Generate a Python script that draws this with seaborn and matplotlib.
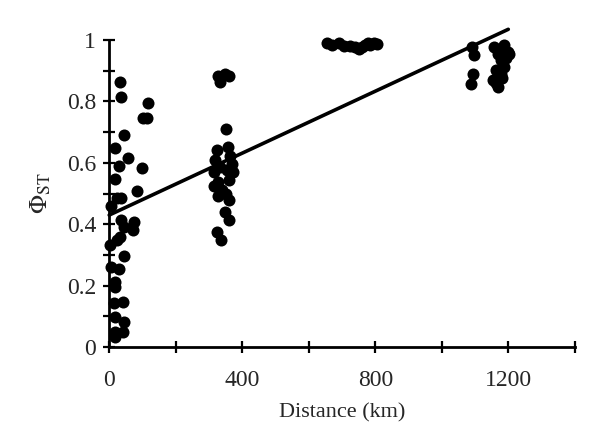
import numpy as np
import pandas as pd
import seaborn as sns
from matplotlib import pyplot as plt
from matplotlib.ticker import MultipleLocator, FixedLocator

# --- data ---
near_km = [33, 35, 116, 101, 113, 45, 16, 58, 28, 100, 16, 85, 23, 35, 6,
           36, 76, 43, 71, 33, 23, 3, 43, 5, 28, 18, 18, 13, 40, 18, 43, 18, 41, 16]
near_phi = [0.862, 0.815, 0.794, 0.745, 0.745, 0.69, 0.649, 0.617, 0.59, 0.584,
            0.547, 0.509, 0.487, 0.484, 0.459, 0.414, 0.406, 0.392, 0.381, 0.359,
            0.349, 0.332, 0.296, 0.262, 0.253, 0.213, 0.197, 0.142, 0.148, 0.099,
            0.082, 0.05, 0.05, 0.032]

mid_km = [328, 349, 361, 334, 352, 325, 358, 319, 364, 370, 334, 316, 355, 373,
          328, 361, 316, 340, 352, 328, 361, 349, 361, 325, 337]
mid_phi = [0.883, 0.889, 0.883, 0.863, 0.71, 0.642, 0.651, 0.609, 0.622, 0.596,
           0.586, 0.57, 0.577, 0.57, 0.537, 0.544, 0.524, 0.511, 0.498, 0.492,
           0.479, 0.44, 0.414, 0.375, 0.349]

far_km = [655, 670, 690, 705, 725, 740, 750, 760, 770, 778, 785, 795, 805]
far_phi = [0.99, 0.985, 0.99, 0.982, 0.98, 0.976, 0.97, 0.978, 0.985, 0.99,
           0.984, 0.99, 0.986]

edge_km = [1092, 1097, 1095, 1089, 1158, 1188, 1168, 1198, 1203, 1178, 1193,
           1163, 1188, 1178, 1153, 1182, 1168, 1163]
edge_phi = [0.978, 0.951, 0.891, 0.857, 0.978, 0.984, 0.956, 0.962, 0.956,
            0.935, 0.94, 0.902, 0.913, 0.891, 0.87, 0.875, 0.848, 0.86]

trend_km = [0, 1200]
trend_phi = [0.43, 1.035]

df = pd.DataFrame({
    'Distance': near_km + mid_km + far_km + edge_km,
    'Phi': near_phi + mid_phi + far_phi + edge_phi,
})

sns.set_style('white')
plt.rcParams['font.family'] = ['Liberation Serif', 'DejaVu Serif']
plt.rcParams['mathtext.fontset'] = 'stix'

fig = plt.figure(figsize=(6, 4.45), dpi=100)
ax = fig.add_axes([0.182, 0.220, 0.776, 0.690])

sns.scatterplot(data=df, x='Distance', y='Phi', color='black', s=75,
                edgecolor='black', linewidth=0, ax=ax, clip_on=False, zorder=3)
ax.plot(trend_km, trend_phi, color='black', lw=2.6, clip_on=False, zorder=4)

ax.set_xlim(0, 1400)
ax.set_ylim(0, 1)
ax.xaxis.set_major_locator(FixedLocator([0, 400, 800, 1200]))
ax.xaxis.set_minor_locator(MultipleLocator(200))
ax.yaxis.set_major_locator(FixedLocator([0, 0.2, 0.4, 0.6, 0.8, 1.0]))
ax.yaxis.set_minor_locator(MultipleLocator(0.1))
ax.set_yticklabels(['0', '0.2', '0.4', '0.6', '0.8', '1'])

for s in ['top', 'right']:
    ax.spines[s].set_visible(False)
for s in ['left', 'bottom']:
    ax.spines[s].set_color('black')
    ax.spines[s].set_linewidth(2)

ax.tick_params(which='both', direction='inout', length=9, width=1.6,
               color='black', left=True, bottom=True)
ax.tick_params(which='major', labelsize=17)
ax.tick_params(axis='y', which='major', pad=5)
ax.tick_params(axis='x', which='major', pad=12)

ax.set_xlabel('Distance (km)', fontsize=16, labelpad=9)
ax.set_ylabel(r'$\Phi_{\mathrm{ST}}$', fontsize=18, labelpad=10)

fig.savefig('out.png', dpi=100)
